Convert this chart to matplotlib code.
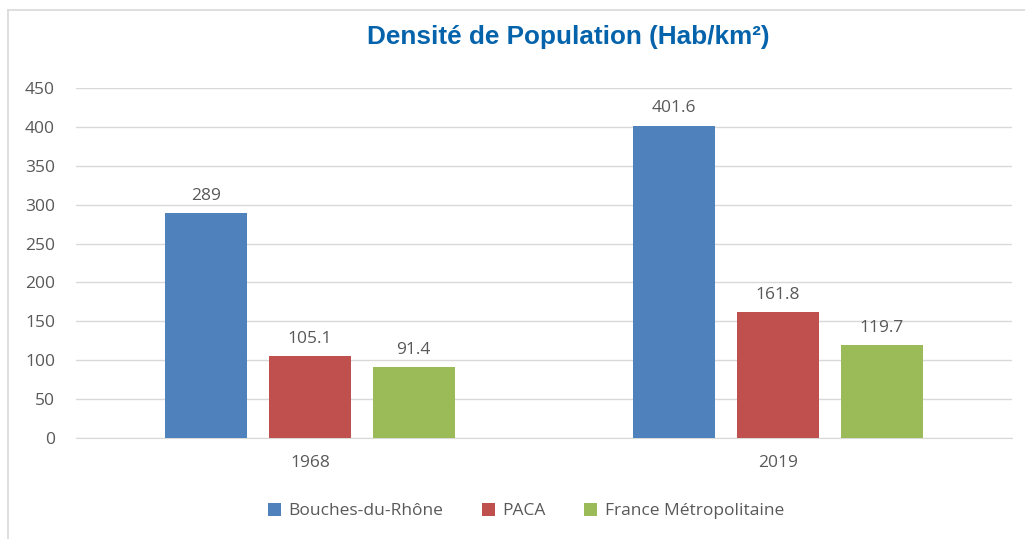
import matplotlib.pyplot as plt
import numpy as np
from matplotlib.lines import Line2D

# données
years = ['1968', '2019']
series = ['Bouches-du-Rhône', 'PACA', 'France Métropolitaine']
bdr = [289, 401.6]
paca = [105.1, 161.8]
france = [91.4, 119.7]
colors = ['#4f81bd', '#c0504d', '#9bbb59']

plt.rcParams['font.family'] = ['Open Sans', 'DejaVu Sans']

fig = plt.figure(figsize=(10.25, 5.39), dpi=100)
ax = fig.add_axes([0.0741, 0.1874, 0.9129, 0.6493])

# cadre gris autour du graphique
fig.add_artist(Line2D([8 / 1025, 8 / 1025], [0, 1 - 10 / 539], transform=fig.transFigure,
                      color='#d9d9d9', lw=1.2))
fig.add_artist(Line2D([8 / 1025, 1], [1 - 10 / 539, 1 - 10 / 539], transform=fig.transFigure,
                      color='#d9d9d9', lw=1.2))

x = np.arange(len(years))
width = 0.175
step = 0.222
for i, (vals, name) in enumerate(zip([bdr, paca, france], series)):
    pos = x + (i - 1) * step
    ax.bar(pos, vals, width, color=colors[i], label=name, zorder=3)
    for p, v in zip(pos, vals):
        ax.text(p, v + 12, f'{v:g}', ha='center', va='bottom', fontsize=12.5, color='#595959')

ax.set_xlim(-0.5, 1.5)
ax.set_ylim(0, 450)
ax.set_yticks(np.arange(0, 451, 50))
ax.set_xticks(x)
ax.set_xticklabels(years)
ax.yaxis.grid(True, color='#d9d9d9', lw=1, zorder=0)
for s in ['top', 'right', 'left']:
    ax.spines[s].set_visible(False)
ax.spines['bottom'].set_color('#d9d9d9')
ax.tick_params(axis='both', length=0, colors='#595959', labelsize=12.5)
ax.tick_params(axis='y', pad=15)
ax.tick_params(axis='x', pad=12)

fig.text(0.5547, 1 - 37 / 539, 'Densité de Population (Hab/km²)', ha='center', va='center',
         fontsize=18.8, fontweight='bold', color='#0563ab', family=['Liberation Sans', 'DejaVu Sans'])

fig.legend(loc='center', bbox_to_anchor=(0.513, 1 - 511 / 539), ncol=3, frameon=False,
           fontsize=12.5, labelcolor='#595959', handlelength=0.75, handleheight=0.75,
           handletextpad=0.45, columnspacing=2.2)

fig.savefig('out.png', dpi=100)
